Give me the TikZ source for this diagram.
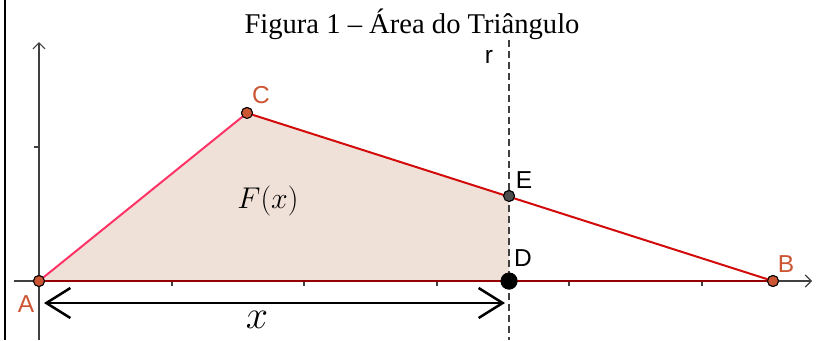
\RequirePackage{fix-cm}
\documentclass[tikz,border=0pt]{standalone}
\usepackage{fontspec}
\setmainfont{Liberation Serif}
\newfontfamily\labfont{Liberation Sans}
\usetikzlibrary{arrows.meta}
\definecolor{ptcol}{RGB}{204,85,51}
\definecolor{axcol}{RGB}{64,64,64}
\definecolor{regfill}{RGB}{240,225,216}
\definecolor{lineAC}{RGB}{255,51,102}
\definecolor{lineCB}{RGB}{210,10,10}
\definecolor{lineAB}{RGB}{150,0,0}
\definecolor{ptE}{RGB}{77,77,77}
\tikzset{
  axis/.style={draw=axcol, line width=1.3pt, -{Straight Barb[length=6pt,width=12pt,line width=1.2pt]}},
  tick/.style={draw=axcol, line width=1.3pt},
  pt/.style={circle, draw=black, line width=1pt, fill=ptcol, inner sep=0pt, minimum size=11pt},
  ptgray/.style={circle, draw=black, line width=1pt, fill=ptE, inner sep=0pt, minimum size=11pt},
  ptbig/.style={circle, fill=black, inner sep=0pt, minimum size=17pt},
  lab/.style={font=\labfont\fontsize{24.5}{25}\selectfont, inner sep=0pt},
  measure/.style={line width=2.5pt, {Straight Barb[length=24pt,width=30pt,line width=2.5pt]}-{Straight Barb[length=24pt,width=30pt,line width=2.5pt]}}
}
\begin{document}
\begin{tikzpicture}[x=1pt,y=-1pt]
\useasboundingbox (0,0) rectangle (819,340);
% frame line
\draw[line width=2.5pt] (5,0) -- (5,340);
% title
\node[font=\fontsize{28.6}{30}\selectfont, inner sep=0pt] (title) at (412,24) {Figura 1 – Área do Triângulo};
% axes
\coordinate (xl) at (14,281);
\coordinate (xr) at (812,281);
\coordinate (yb) at (39,340);
\coordinate (yt) at (39,42);
\draw[axis] (xl) -- (xr);
\draw[axis] (yb) -- (yt);
\foreach \tx in {172,304,437,569,702} \draw[tick] (\tx,281) -- (\tx,286);
\draw[tick] (34,147) -- (39,147);
% points
\node[pt] (A) at (39,281) {};
\node[pt] (C) at (247,113) {};
\node[pt] (B) at (773,281) {};
\node[ptgray] (E) at (509,196) {};
\node[ptbig] (D) at (509,281) {};
\coordinate (rt) at (509,40);
\coordinate (rb) at (509,340);
% region
\fill[regfill] (A.center) -- (C.center) -- (E.center) -- (D.center) -- cycle;
% line r
\draw[axcol, line width=1.4pt, dash pattern=on 7pt off 4pt] (rt) -- (rb);
% sides
\draw[lineAB, line width=2.8pt] (A.center) -- (B.center);
\draw[lineAC, line width=2pt] (A.center) -- (C.center);
\draw[lineCB, line width=2pt] (C.center) -- (B.center);
% redraw points on top
\node[pt] at (A) {};
\node[pt] at (C) {};
\node[pt] at (B) {};
\node[ptgray] at (E) {};
\node[ptbig] at (D) {};
% labels
\node[lab, text=ptcol] (lA) at (26,304) {A};
\node[lab, text=ptcol] (lB) at (786,264) {B};
\node[lab, text=ptcol] (lC) at (261,95) {C};
\node[lab] (lD) at (523,258) {D};
\node[lab] (lE) at (524,180) {E};
\node[lab] (lr) at (489,57) {r};
\node[font=\fontsize{30}{32}\selectfont, inner sep=0pt] (Fx) at (268,201) {$F(x)$};
% measure arrow
\coordinate (m1) at (44,303);
\coordinate (m2) at (505,303);
\draw[measure] (m1) -- (m2);
\node[font=\fontsize{40}{40}\selectfont, inner sep=0pt] (xl2) at (257,320) {$x$};
\end{tikzpicture}
\end{document}
